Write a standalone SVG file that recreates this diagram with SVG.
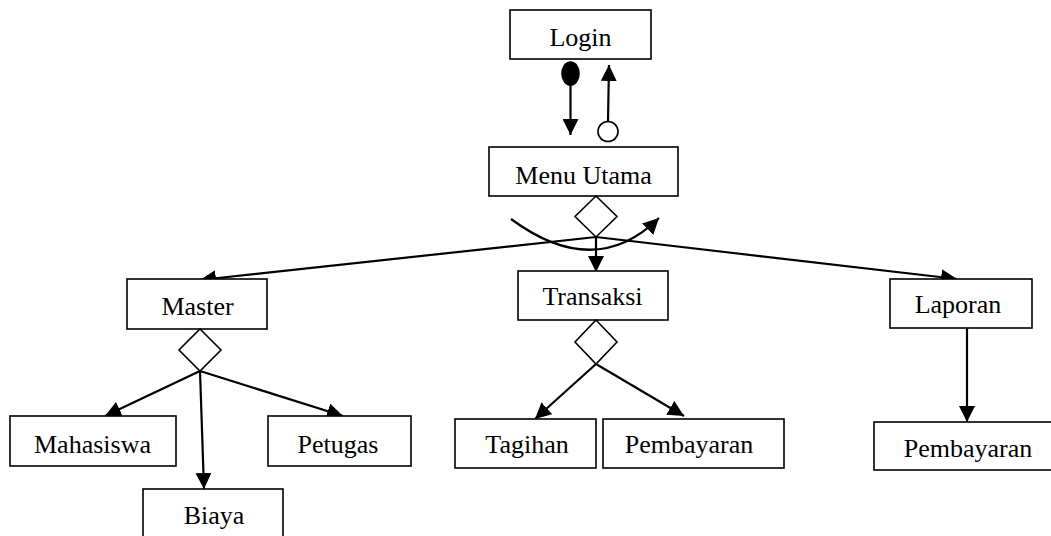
<svg xmlns="http://www.w3.org/2000/svg" width="1051" height="536" viewBox="0 0 1051 536">
<defs>
<style>
.box{fill:#fff;stroke:#000;stroke-width:1.6}
.lbl{font-family:"Liberation Serif","Times New Roman",serif;font-size:26px;fill:#000;text-anchor:middle}
.dia{fill:#fff;stroke:#000;stroke-width:1.6}
.ln{fill:none;stroke:#000;stroke-width:2.2}
</style>
<marker id="ah" markerUnits="userSpaceOnUse" markerWidth="16" markerHeight="16" refX="16" refY="8" orient="auto" viewBox="0 0 16 16">
<path d="M0,0 L16,8 L0,16 z" fill="#000"/>
</marker>
</defs>
<rect width="1051" height="536" fill="#fff"/>
<g id="connectors">
<ellipse cx="570.5" cy="73.5" rx="9.3" ry="12.3" fill="#000"/>
<line class="ln" x1="570.5" y1="85" x2="570.5" y2="135" marker-end="url(#ah)"/>
<circle cx="608" cy="131.5" r="10" fill="#fff" stroke="#000" stroke-width="1.6"/>
<line class="ln" x1="608" y1="121.5" x2="609" y2="65" marker-end="url(#ah)"/>
<path class="ln" d="M511,219 Q595,281 659,218" marker-end="url(#ah)"/>
<line class="ln" x1="596" y1="237" x2="200" y2="280" marker-end="url(#ah)"/>
<line class="ln" x1="596" y1="237" x2="957" y2="279" marker-end="url(#ah)"/>
<line class="ln" x1="596" y1="237" x2="596" y2="272" marker-end="url(#ah)"/>
<line class="ln" x1="200" y1="371" x2="105" y2="416" marker-end="url(#ah)"/>
<line class="ln" x1="200" y1="371" x2="343" y2="416" marker-end="url(#ah)"/>
<line class="ln" x1="200" y1="371" x2="204" y2="489" marker-end="url(#ah)"/>
<line class="ln" x1="596" y1="364" x2="535" y2="419" marker-end="url(#ah)"/>
<line class="ln" x1="596" y1="364" x2="684" y2="416" marker-end="url(#ah)"/>
<line class="ln" x1="967" y1="328" x2="967" y2="422" marker-end="url(#ah)"/>
</g>
<g id="login"><rect class="box" x="510" y="10" width="141" height="49"/><text class="lbl" x="580.5" y="46">Login</text></g>
<g id="menu-utama"><rect class="box" x="489" y="147" width="189" height="49"/><text class="lbl" x="583.5" y="184">Menu Utama</text></g>
<g id="menu-utama-diamond"><polygon class="dia" points="596,196 617,216.5 596,237 575,216.5"/></g>
<g id="master"><rect class="box" x="127" y="279" width="140" height="50"/><text class="lbl" x="197.5" y="315">Master</text></g>
<g id="master-diamond"><polygon class="dia" points="200,329 221,350 200,371 179,350"/></g>
<g id="transaksi"><rect class="box" x="518" y="271" width="150" height="49"/><text class="lbl" x="592.5" y="305">Transaksi</text></g>
<g id="transaksi-diamond"><polygon class="dia" points="596,320 617,342 596,364 575,342"/></g>
<g id="laporan"><rect class="box" x="890" y="279" width="142" height="49"/><text class="lbl" x="958" y="313">Laporan</text></g>
<g id="mahasiswa"><rect class="box" x="10" y="416" width="166" height="50"/><text class="lbl" x="92.5" y="453">Mahasiswa</text></g>
<g id="petugas"><rect class="box" x="268" y="416" width="143" height="50"/><text class="lbl" x="338" y="453">Petugas</text></g>
<g id="biaya"><rect class="box" x="143" y="489" width="140" height="60"/><text class="lbl" x="214" y="524">Biaya</text></g>
<g id="tagihan"><rect class="box" x="455" y="419" width="141" height="49"/><text class="lbl" x="527" y="453">Tagihan</text></g>
<g id="pembayaran-transaksi"><rect class="box" x="603" y="419" width="181" height="49"/><text class="lbl" x="689" y="453">Pembayaran</text></g>
<g id="pembayaran-laporan"><rect class="box" x="874" y="422" width="190" height="48"/><text class="lbl" x="968" y="457">Pembayaran</text></g>
</svg>
